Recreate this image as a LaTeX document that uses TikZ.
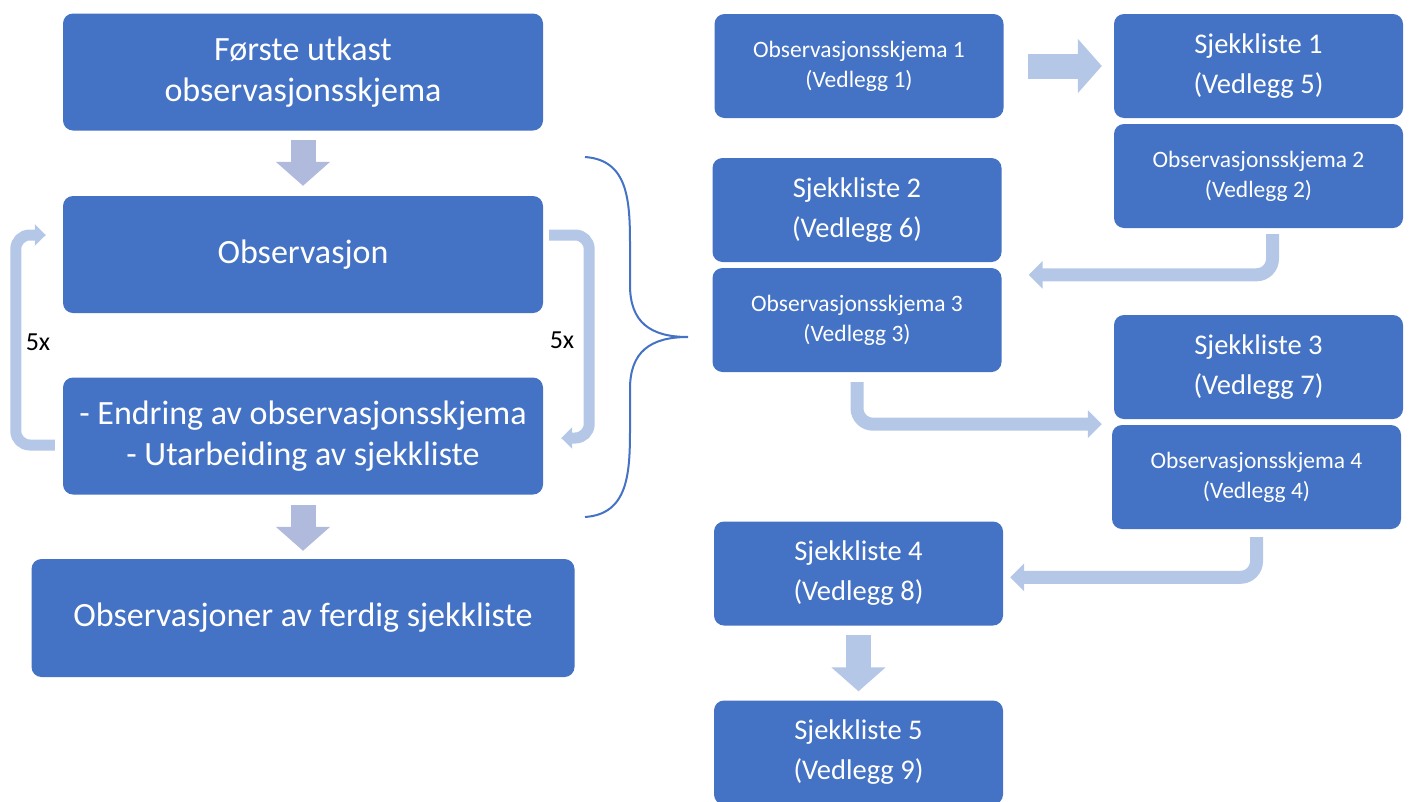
\documentclass[tikz,border=0pt]{standalone}
\usepackage{fontspec}
\setmainfont{Carlito}
\usetikzlibrary{arrows.meta,positioning}

\definecolor{boxblue}{HTML}{4472C4}
\definecolor{arrowblue}{HTML}{B4C7E7}
\definecolor{arrowgrey}{HTML}{AFBADC}

\begin{document}
\begin{tikzpicture}[x=1pt,y=-1pt,node distance=110pt]
        % Define styles
        \tikzstyle{block} = [rectangle, fill=boxblue, text=white, align=center,
            rounded corners=10pt, inner sep=0pt]
        \tikzstyle{bigblock} = [block, minimum width=480pt, minimum height=117pt,
            font=\fontsize{34}{41}\selectfont]
        \tikzstyle{sjekk} = [block, minimum width=289pt, minimum height=104pt,
            font=\fontsize{28.5}{40}\selectfont]
        \tikzstyle{skjema} = [block, minimum width=289pt, minimum height=104pt,
            font=\fontsize{23.5}{30}\selectfont]
        \tikzstyle{fatarrow} = [draw=arrowblue, line width=25pt, -{Triangle[length=24pt,width=53pt]}]
        \tikzstyle{bendarrow} = [draw=arrowblue, line width=13pt, rounded corners=16pt,
            -{Triangle[length=14pt,width=27pt]}]
        \tikzstyle{looparrow} = [draw=arrowblue, line width=11pt, rounded corners=14pt,
            -{Triangle[length=11pt,width=21pt]}]
        \tikzstyle{count} = [font=\fontsize{26}{30}\selectfont]

        \useasboundingbox (0,0) rectangle (1409,801);

        % Nodes, left column
        \node [bigblock] (forste) at (303,72) {Første utkast\\observasjonsskjema};
        \node [bigblock, node distance=182.5pt, below of=forste] (obs) {Observasjon};
        \node [bigblock, node distance=181.5pt, below of=obs] (endring)
            {- Endring av observasjonsskjema\\- Utarbeiding av sjekkliste};
        \node [bigblock, minimum width=543pt, minimum height=118pt,
            node distance=182pt, below of=endring] (ferdig) {Observasjoner av ferdig sjekkliste};
        \node [count] (fem1) at (38,342) {5x};
        \node [count] (fem2) at (562,340) {5x};

        % Nodes, right part
        \node [skjema] (skjema1) at (859,66) {Observasjonsskjema 1\\(Vedlegg 1)};
        \node [sjekk] (sjekk1) at (1258.5,66) {Sjekkliste 1\\(Vedlegg 5)};
        \node [skjema, below of=sjekk1] (skjema2) {Observasjonsskjema 2\\(Vedlegg 2)};
        \node [sjekk] (sjekk2) at (857,210) {Sjekkliste 2\\(Vedlegg 6)};
        \node [skjema, below of=sjekk2] (skjema3) {Observasjonsskjema 3\\(Vedlegg 3)};
        \node [sjekk] (sjekk3) at (1258.5,367) {Sjekkliste 3\\(Vedlegg 7)};
        \node [skjema, below of=sjekk3, xshift=-2pt] (skjema4) {Observasjonsskjema 4\\(Vedlegg 4)};
        \node [sjekk] (sjekk4) at (858.5,573.5) {Sjekkliste 4\\(Vedlegg 8)};
        \node [sjekk, node distance=179pt, below of=sjekk4] (sjekk5) {Sjekkliste 5\\(Vedlegg 9)};

        % Arrows
        \draw [fatarrow, draw=arrowgrey] ([yshift=-9pt]forste.south) -- ([yshift=10pt]obs.north);
        \draw [fatarrow, draw=arrowgrey] ([yshift=-10pt]endring.south) -- ([yshift=8pt]ferdig.north);
        \draw [looparrow] ([xshift=-8pt,yshift=-9pt]endring.west) -| ([xshift=-47pt,yshift=19.5pt]obs.west)
            -- ([xshift=-17pt,yshift=19.5pt]obs.west);
        \draw [looparrow] ([xshift=6pt,yshift=19.5pt]obs.east) -| ([xshift=46pt,yshift=-2pt]endring.east)
            -- ([xshift=18pt,yshift=-2pt]endring.east);

        \draw [fatarrow] ([xshift=24pt]skjema1.east) -- ([xshift=-12pt]sjekk1.west);
        \draw [bendarrow] ([xshift=14pt,yshift=-6pt]skjema2.south) |- ([xshift=27pt,yshift=-7pt]skjema3.north east);
        \draw [bendarrow] ([yshift=-10pt]skjema3.south) |- ([xshift=-12pt,yshift=-5pt]sjekk3.south west);
        \draw [bendarrow] ([yshift=-8pt]skjema4.south) |- ([xshift=7pt,yshift=-56pt]sjekk4.north east);
        \draw [fatarrow] ([yshift=-9pt]sjekk4.south) -- ([yshift=9pt]sjekk5.north);

        % Brace
        \draw [boxblue, line width=2pt] (585,157) .. controls (628,160) and (630,200) .. (630,245)
            -- (630,285) .. controls (630,322) and (650,337) .. (688,337)
            .. controls (650,337) and (630,352) .. (630,389) -- (630,429)
            .. controls (630,474) and (628,514) .. (585,517);

\end{tikzpicture}
\end{document}
